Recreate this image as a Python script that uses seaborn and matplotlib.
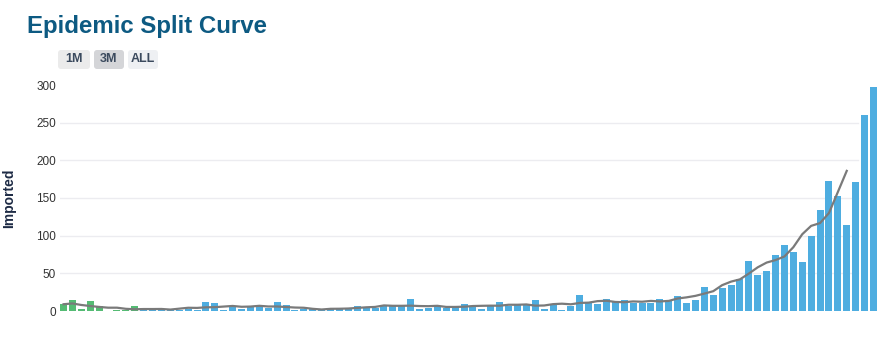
import numpy as np
import pandas as pd
import matplotlib
matplotlib.use("Agg")
import matplotlib.pyplot as plt
from matplotlib.patches import FancyBboxPatch
import seaborn as sns

# ---- data ----
imported = [9, 14, 3, 13, 6, 0, 1, 1, 7, 3, 2, 2, 2, 1, 2, 1, 12, 10, 1, 7,
            3, 7, 7, 4, 12, 8, 1, 3, 2, 2, 2, 2, 2, 7, 4, 4, 8, 7, 6, 16,
            3, 4, 6, 4, 6, 9, 6, 3, 6, 12, 6, 8, 8, 15, 3, 9, 1, 7, 21, 12,
            9, 16, 12, 15, 10, 10, 10, 16, 13, 20, 10, 15, 32, 21, 30, 34, 42, 66, 48, 53,
            75, 88, 78, 65, 100, 134, 173, 153, 114, 171, 260, 297]
phase = ["early"] * 9 + ["late"] * (len(imported) - 9)
moving_avg = [9, 10, 8, 6.6, 5.4, 4.4, 4.4, 2.9, 2.3, 2.6, 2.6, 2.7, 1.9, 3.1, 4.3, 4.1,
              4.9, 5.1, 5.9, 6.7, 5.6, 5.9, 6.9, 6.0, 6.0, 5.3, 4.6, 4.3, 2.9, 2.0, 2.9, 3.0,
              3.3, 4.1, 4.9, 5.4, 7.4, 6.9, 6.9, 7.1, 6.6, 6.4, 6.9, 5.4, 5.4, 5.7, 6.6, 6.9,
              7.1, 7.0, 8.3, 8.3, 8.7, 7.1, 7.3, 9.1, 9.7, 8.9, 10.7, 11.1, 13.1, 13.6, 12.0, 11.7,
              12.7, 12.3, 13.4, 12.7, 13.4, 16.6, 18.1, 20.1, 23.1, 26.3, 34.3, 39.0, 42.0, 49.7,
              58.0, 64.3, 67.6, 72.4, 84.7, 101.9, 113.0, 116.7, 130.0, 157.9, 186.0]
y_ticks = [0, 50, 100, 150, 200, 250, 300]
title = "Epidemic Split Curve"
buttons = ["1M", "3M", "ALL"]
y_label = "Imported"

days = list(range(len(imported)))
df = pd.DataFrame({"day": days, "imported": imported, "phase": phase})
ma = pd.DataFrame({"day": list(range(len(moving_avg))), "avg": moving_avg})

W, H = 892, 339
fig = plt.figure(figsize=(W / 100, H / 100), dpi=100)
fig.patch.set_facecolor("white")

ax = fig.add_axes([60 / W, (H - 311) / H, (877 - 60) / W, (311 - 85) / H])
ax.set_facecolor("white")

sns.barplot(data=df, x="day", y="imported", hue="phase",
            palette={"early": "#55bb74", "late": "#4eade0"},
            dodge=False, width=0.78, legend=False, ax=ax, saturation=1)
sns.lineplot(data=ma, x="day", y="avg", color="#7a7a7a", linewidth=1.6, ax=ax)

ax.set_xlim(-0.4, len(imported) - 0.6)
ax.set_ylim(0, 300)
for t in y_ticks[1:-1]:
    ax.axhline(t, xmin=0, xmax=0.977, color="#ececf0", linewidth=1, zorder=0)
ax.set_yticks(y_ticks)
ax.set_yticklabels([str(t) for t in y_ticks], fontsize=8.5, color="#333333",
                   family="Liberation Sans")
ax.tick_params(axis="y", length=0, pad=3)
ax.set_xticks([])
ax.set_xlabel("")
ax.set_ylabel("")
for s in ax.spines.values():
    s.set_visible(False)

fig.text(9 / W, 1 - 198 / H, y_label, rotation=90, ha="center", va="center",
         fontsize=10, fontweight="bold", color="#1e2b45", family="Liberation Sans")
fig.text(27 / W, 1 - 27 / H, title, ha="left", va="center",
         fontsize=17.3, fontweight="bold", color="#0d5a82", family="Liberation Sans")

# buttons overlay in pixel coordinates
ov = fig.add_axes([0, 0, 1, 1], zorder=5)
ov.set_xlim(0, W)
ov.set_ylim(H, 0)
ov.axis("off")
boxes = [(58, 90, "#ebebeb"), (94, 124, "#d4d5d8"), (128, 158, "#eef0f3")]
for (x0, x1, c), lab in zip(boxes, buttons):
    ov.add_patch(FancyBboxPatch((x0, 50), x1 - x0, 19,
                                boxstyle="round,pad=0,rounding_size=3",
                                facecolor=c, edgecolor="none"))
    ov.text((x0 + x1) / 2, 59.5, lab, ha="center", va="center", fontsize=9,
            fontweight="bold", color="#3b4a5e", family="Liberation Sans")

fig.savefig("out.png", dpi=100, facecolor="white")
